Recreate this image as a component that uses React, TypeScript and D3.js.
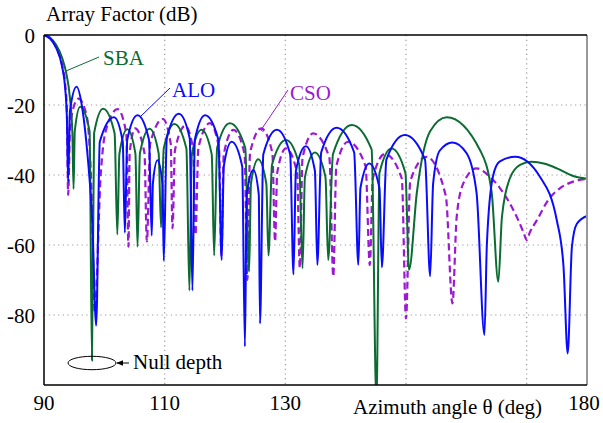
import React from 'react';
import * as d3 from 'd3';

const W = 603;
const H = 423;
const margin = { left: 44, right: 16, top: 35, bottom: 38 };

const xTicks = [90, 110, 130, 180];
const xGrid = [110, 130, 150, 170];
const yTicks = [0, -20, -40, -60, -80];

// [azimuth angle (deg), array factor (dB)]
const sba: [number, number][] = [
  [90, 0], [91, -0.7], [92, -2.8], [93, -6.5], [93.7, -11], [94.3, -18], [94.7, -28], [94.9, -44],
  [95.1, -27.5], [96.0, -20.5], [97.55, -27.5], [97.95, -93],
  [98.3, -28.1], [99.8, -21.1], [101.7, -28.1], [102.15, -57],
  [102.5, -33.9], [103.8, -26.9], [105.15, -33.9], [105.5, -60.5],
  [105.9, -33.8], [107.5, -26.8], [109.0, -33.8], [109.4, -55],
  [109.85, -32.4], [111.6, -25.4], [113.6, -32.4], [114.1, -73],
  [114.5, -34.1], [116.1, -27.1], [117.8, -34.1], [118.2, -63],
  [118.7, -32.2], [120.8, -25.2], [123.35, -32.2], [124.0, -67.6],
  [124.3, -42.5], [125.5, -35.5], [126.85, -42.5], [127.2, -63],
  [127.8, -37], [130.1, -30], [132.3, -37], [132.85, -66.7],
  [133.25, -40.6], [134.9, -33.6], [136.65, -40.6], [137.1, -64.3],
  [137.9, -34], [141.0, -25.7], [144.3, -32.7], [145.1, -105],
  [145.6, -39.4], [147.6, -32.4], [149.9, -39.4], [150.5, -67.1],
  [151.8, -45], [154.0, -27.5], [156.75, -23.5], [162.3, -33], [164.2, -45], [165.3, -70.5],
  [165.9, -52], [167.2, -41], [168.9, -37.1], [170.8, -36.2], [173, -36.8], [175, -38.1],
  [177.7, -40.3], [180, -41.1],
];

const alo: [number, number][] = [
  [90, 0], [91, -1], [92, -3.6], [93, -9], [93.5, -15], [93.8, -24], [94.0, -42],
  [94.3, -21.8], [95.4, -14.8], [96.35, -21], [97.2, -34], [98.0, -53], [98.65, -83],
  [99.25, -30.5], [101.6, -23.5], [103.05, -30.5], [103.4, -56.5],
  [103.8, -29.9], [105.5, -22.9], [107.4, -29.9], [107.85, -57.3],
  [108.05, -42.4], [108.8, -35.8], [109.65, -42.8], [109.85, -64.5],
  [110.35, -29.5], [112.35, -22.5], [114.15, -29.5], [114.6, -73],
  [115.0, -29.9], [116.7, -22.9], [118.9, -29.9], [119.45, -64.3],
  [119.8, -37.5], [121.1, -30.5], [122.85, -37.5], [123.3, -89],
  [123.6, -45.6], [124.7, -38.6], [125.6, -45.6], [125.8, -82.4],
  [126.35, -34.1], [128.6, -27.1], [130.8, -34.1], [131.35, -68.4],
  [131.75, -38.8], [133.4, -31.8], [134.9, -38.8], [135.3, -65.7],
  [135.95, -33.5], [138.5, -26.5], [141.4, -33.5], [142.1, -65.7],
  [142.45, -43.7], [143.9, -36.7], [145.6, -43.7], [146.0, -66.4],
  [146.75, -35.6], [149.8, -28.6], [153.15, -35.6], [154.0, -68.9],
  [154.5, -42.4], [155.6, -33], [157.7, -30.7], [160.05, -33.8], [161.7, -45.2], [163.0, -85.7],
  [163.4, -60], [164.4, -40.5], [165.5, -36.2], [168.1, -34.8], [172.2, -40.5], [175, -53],
  [176.1, -66], [176.8, -91],
  [177.5, -60.5], [178.3, -54], [180, -51.7],
];

const cso: [number, number][] = [
  [90, 0], [91, -1], [92, -3.5], [93, -8.5], [93.5, -14], [93.8, -22], [94.0, -45.7],
  [94.35, -25.2], [95.7, -18.2], [97.1, -23.3], [97.9, -46], [98.4, -79],
  [99.4, -40], [100.2, -27.6], [102.2, -21.2], [103.65, -28.2], [104.0, -60.5],
  [104.2, -33.7], [105.1, -26.7], [106.65, -33.7], [107.05, -59],
  [107.6, -31], [109.7, -24], [111.0, -31], [111.3, -55.2],
  [111.7, -33], [113.4, -26], [114.75, -33], [115.1, -57.1],
  [115.6, -32.2], [117.5, -25.2], [119.0, -32.2], [119.4, -63],
  [119.8, -34.1], [121.4, -27.1], [123.25, -34.1], [123.7, -70],
  [124.15, -33.7], [126.0, -26.7], [127.85, -33.7], [128.3, -59],
  [128.65, -39.4], [130.1, -32.4], [131.95, -39.4], [132.4, -66.6],
  [132.85, -35.1], [134.6, -28.1], [137.3, -35.1], [137.95, -69],
  [138.45, -37.5], [140.4, -30.5], [143.3, -37.5], [144.0, -65.7],
  [144.5, -41], [146.5, -34], [149.3, -41], [150.0, -81],
  [150.7, -41.8], [153.4, -34.8], [156.6, -46], [157.7, -76.7],
  [158.4, -52], [159.5, -42.4], [161.7, -38.1], [163.9, -40.5], [165.6, -43.8], [167.2, -48.1],
  [168.6, -52.9], [169.5, -56.5], [170.0, -58.6],
  [170.5, -56.5], [171.7, -52.9], [173.6, -47.1], [175.5, -43.8], [177.7, -41.9], [180, -41.1],
];

const font = '"Liberation Serif", "Times New Roman", serif';
const GREEN = '#0b6b32';
const BLUE = '#0a0aff';
const PURPLE = '#9b19d3';

export default function App() {
  const x = d3.scaleLinear().domain([90, 180]).range([margin.left, W - margin.right]);
  const y = d3.scaleLinear().domain([0, -100]).range([margin.top, H - margin.bottom]);
  const line = d3.line<[number, number]>()
    .x(d => x(d[0]))
    .y(d => y(d[1]))
    .curve(d3.curveMonotoneX);

  const x0 = x(90), x1 = x(180), y0 = y(0), y1 = y(-100);

  return (
    <svg width={W} height={H} style={{ position: 'absolute', left: 0, top: 0, background: '#fff' }}
      fontFamily={font}>
      <defs>
        <clipPath id="plot">
          <rect x={x0} y={y0} width={x1 - x0} height={y1 - y0} />
        </clipPath>
        <marker id="arr" viewBox="0 0 10 10" refX="9" refY="5" markerWidth="7" markerHeight="7" orient="auto">
          <path d="M0,1 L10,5 L0,9 z" fill="#000" />
        </marker>
      </defs>

      {xGrid.map(t => (
        <line key={'gx' + t} x1={x(t)} x2={x(t)} y1={y0} y2={y1}
          stroke="#999" strokeWidth={1.2} strokeDasharray="1.2,3.5" />
      ))}
      {yTicks.filter(t => t !== 0).map(t => (
        <line key={'gy' + t} x1={x0} x2={x1} y1={y(t)} y2={y(t)}
          stroke="#999" strokeWidth={1.2} strokeDasharray="1.2,3.5" />
      ))}

      <g clipPath="url(#plot)" fill="none">
        <path d={line(cso) || ''} stroke={PURPLE} strokeWidth={2.2} strokeDasharray="7,4" />
        <path d={line(sba) || ''} stroke={GREEN} strokeWidth={2} />
        <path d={line(alo) || ''} stroke={BLUE} strokeWidth={2} />
      </g>

      <line x1={x1} x2={x1} y1={y0} y2={y1} stroke="#999" strokeWidth={2} />
      <line x1={x0} x2={x1} y1={y0} y2={y0} stroke="#000" strokeWidth={1.3} />
      <line x1={x0} x2={x0} y1={y0} y2={y1} stroke="#000" strokeWidth={1.5} />
      <line x1={x0} x2={x1} y1={y1} y2={y1} stroke="#000" strokeWidth={1.5} />

      {yTicks.map(t => (
        <text key={'yl' + t} x={35} y={y(t) + 7.5} textAnchor="end" fontSize={21}>{t}</text>
      ))}
      {xTicks.map(t => (
        <text key={'xl' + t} x={x(t) + (t === 180 ? -3 : 0)} y={410} textAnchor="middle" fontSize={21}>{t}</text>
      ))}
      <text x={46} y={21} fontSize={21}>Array Factor (dB)</text>
      <text x={353} y={414} fontSize={21}>Azimuth angle θ (deg)</text>

      <line x1={99} y1={57} x2={66} y2={71} stroke={GREEN} strokeWidth={1} />
      <text x={103} y={65} fontSize={21} fill={GREEN}>SBA</text>
      <line x1={170} y1={88} x2={140} y2={117} stroke={BLUE} strokeWidth={1} />
      <text x={172} y={97} fontSize={21} fill={BLUE}>ALO</text>
      <line x1={288} y1={90} x2={261} y2={130} stroke={PURPLE} strokeWidth={1} />
      <line x1={258.5} y1={128.3} x2={263.5} y2={131.7} stroke={PURPLE} strokeWidth={1} />
      <text x={290} y={100} fontSize={21} fill={PURPLE}>CSO</text>

      <ellipse cx={92} cy={363} rx={24} ry={6.7} fill="none" stroke="#000" strokeWidth={1} />
      <line x1={129} y1={363} x2={117} y2={363} stroke="#000" strokeWidth={1} markerEnd="url(#arr)" />
      <text x={133} y={369} fontSize={21}>Null depth</text>
    </svg>
  );
}
